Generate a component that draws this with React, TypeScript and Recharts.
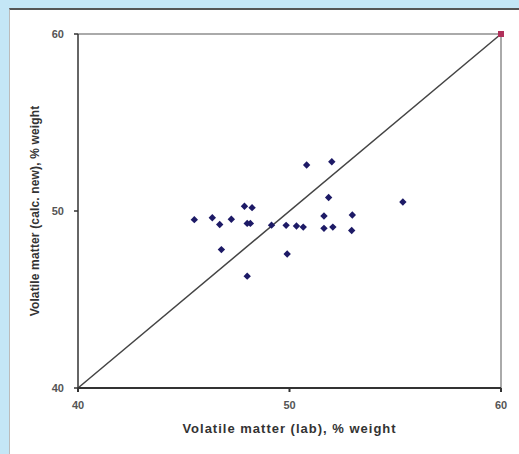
import { ScatterChart, Scatter, XAxis, YAxis, ReferenceLine } from "recharts";

// volatile matter, % weight: lab value vs value calculated by the new method
const labVM = [
  45.5, 46.35, 46.7, 47.25, 47.87, 48.23, 48.0, 48.15, 49.15, 49.84, 50.33, 50.65,
  50.81, 52.0, 51.85, 51.63, 52.97, 51.63, 52.05, 52.94, 46.78, 49.89, 48.0, 55.36,
];
const calcVM = [
  49.51, 49.62, 49.24, 49.53, 50.27, 50.19, 49.3, 49.3, 49.2, 49.19, 49.15, 49.09,
  52.6, 52.78, 50.76, 49.72, 49.77, 49.02, 49.09, 48.9, 47.82, 47.57, 46.32, 50.51,
];
const cornerX = [60];
const cornerY = [60];
const axisTicks = [40, 50, 60];

const points = labVM.map((x, i) => ({ x, y: calcVM[i] }));
const corner = cornerX.map((x, i) => ({ x, y: cornerY[i] }));

const font = "Liberation Sans, Arial, sans-serif";
const tickStyle = { fill: "#555", fontSize: 11, fontWeight: 700, fontFamily: font };
const xTitleStyle = { fill: "#333", fontSize: 13, fontWeight: 700, fontFamily: font, letterSpacing: 1 };
const yTitleStyle = { fill: "#333", fontSize: 12, fontWeight: 700, fontFamily: font, letterSpacing: 0.15, textAnchor: "middle" as const };

const Diamond = (p: any) => {
  const { cx, cy } = p;
  const r = 3.7;
  return <path d={`M${cx},${cy - r}L${cx + r},${cy}L${cx},${cy + r}L${cx - r},${cy}Z`} fill="#1d1a66" />;
};

const Square = (p: any) => {
  const { cx, cy } = p;
  return <rect x={cx - 3} y={cy - 3} width={6} height={6} fill="#b0305a" />;
};

export default function App() {
  return (
    <div style={{ position: "absolute", left: 0, top: 0, width: 519, height: 454, background: "#c4e6f6", overflow: "hidden" }}>
      <div
        style={{
          position: "absolute",
          left: 9,
          top: 8,
          width: 510,
          height: 446,
          background: "#fff",
          borderTop: "2px solid #555",
          borderLeft: "1px solid #bbb",
          boxSizing: "border-box",
        }}
      >
        <ScatterChart width={509} height={444} margin={{ top: 24, right: 18, bottom: 0, left: 0 }}>
          <XAxis
            type="number"
            dataKey="x"
            domain={[40, 60]}
            ticks={axisTicks}
            tick={tickStyle}
            tickSize={4}
            tickMargin={9}
            stroke="#333"
            strokeWidth={2}
            height={66}
            label={{ value: "Volatile matter (lab), % weight", position: "insideBottom", offset: 21, style: xTitleStyle }}
          />
          <YAxis
            type="number"
            dataKey="y"
            domain={[40, 60]}
            ticks={axisTicks}
            tick={tickStyle}
            tickSize={4}
            tickMargin={10}
            stroke="#333"
            strokeWidth={1.5}
            width={68}
            label={{
              value: "Volatile matter (calc. new), % weight",
              angle: -90,
              position: "insideLeft",
              offset: 25,
              style: yTitleStyle,
            }}
          />
          <ReferenceLine y={60} stroke="#aaa" strokeWidth={2} />
          <ReferenceLine x={60} stroke="#aaa" strokeWidth={2} />
          <ReferenceLine segment={[{ x: 40, y: 40 }, { x: 60, y: 60 }]} stroke="#444" strokeWidth={1.5} />
          <Scatter data={points} shape={Diamond} isAnimationActive={false} />
          <Scatter data={corner} shape={Square} isAnimationActive={false} />
        </ScatterChart>
      </div>
    </div>
  );
}
